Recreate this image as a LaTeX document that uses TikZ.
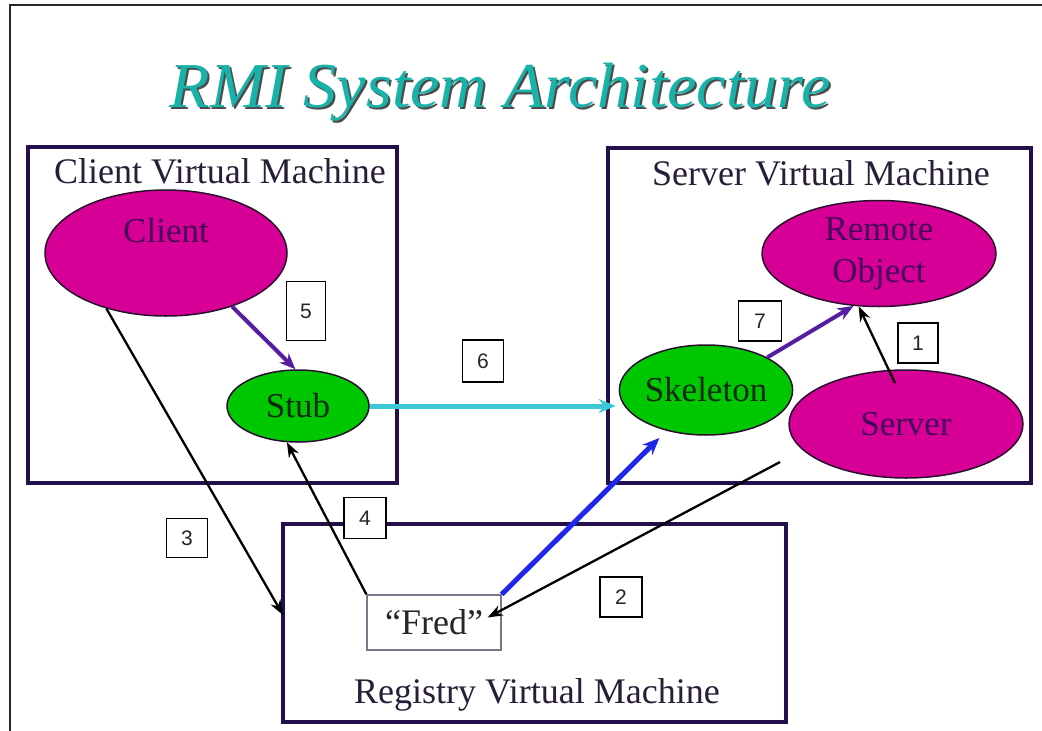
\documentclass[tikz,border=0pt]{standalone}
\usepackage{fontspec}
\setmainfont{Liberation Serif}
\newfontfamily\numfont{Liberation Sans}
\usetikzlibrary{arrows.meta,shapes.geometric,calc}
\definecolor{boxnavy}{RGB}{35,15,75}
\definecolor{magentafill}{RGB}{215,0,150}
\definecolor{greenfill}{RGB}{0,200,0}
\definecolor{ovaledge}{RGB}{40,15,45}
\definecolor{magtext}{RGB}{70,0,90}
\definecolor{grntext}{RGB}{20,40,20}
\definecolor{labeltext}{RGB}{40,30,55}
\definecolor{arrpurple}{RGB}{85,30,160}
\definecolor{arrcyan}{RGB}{60,200,215}
\definecolor{arrblue}{RGB}{30,40,235}
\definecolor{titleteal}{RGB}{25,178,168}
\definecolor{fredgray}{RGB}{120,120,140}
\tikzset{
  vmbox/.style={draw=boxnavy, line width=4pt, inner sep=0pt},
  vmlabel/.style={anchor=base, text=labeltext, font=\fontsize{36}{40}\selectfont, inner sep=0pt},
  magoval/.style={ellipse, draw=ovaledge, line width=1.5pt, fill=magentafill, inner sep=0pt, text=magtext, font=\fontsize{35}{38}\selectfont},
  grnoval/.style={ellipse, draw=ovaledge, line width=1.5pt, fill=greenfill, inner sep=0pt, text=grntext, font=\fontsize{35}{38}\selectfont},
  numbox/.style={draw=black, line width=1.3pt, fill=white, inner sep=0pt, font=\numfont\fontsize{21}{24}\selectfont, text=black!85},
  purparrow/.style={draw=arrpurple, line width=4pt, -{Stealth[length=16pt,width=13pt]}},
  blackarrow/.style={draw=black, line width=2.3pt, -{Stealth[length=15pt,width=11pt]}},
  cyanarrow/.style={draw=arrcyan, line width=5pt, -{Stealth[length=17pt,width=14pt]}},
  bluearrow/.style={draw=arrblue, line width=5pt, -{Stealth[length=17pt,width=14pt]}},
}
\begin{document}
\begin{tikzpicture}[x=1pt,y=-1pt]
\useasboundingbox (0,0) rectangle (1042,731);
\fill[white] (0,0) rectangle (1042,731);
% outer frame (top and left)
\draw[line width=2pt, black!85] (10,731) -- (10,5) -- (1042,5);

% title
\node[anchor=base, inner sep=0pt, text=black!70, font=\itshape\fontsize{64}{70}\selectfont] (titleshadow) at (502,109) {\scalebox{1.035}[1]{RMI System Architecture}};
\node[anchor=base, inner sep=0pt, text=titleteal, font=\itshape\fontsize{64}{70}\selectfont] (title) at (500,107) {\scalebox{1.035}[1]{RMI System Architecture}};

% virtual machine boxes
\node[vmbox, minimum width=369pt, minimum height=336pt] (clientvm) at (212.5,315) {};
\node[vmbox, minimum width=423pt, minimum height=335pt] (servervm) at (819.5,315.5) {};
\node[vmbox, minimum width=503pt, minimum height=198pt] (registryvm) at (534.5,623) {};
\node[vmlabel] (clientvmlbl) at (220,183) {Client Virtual Machine};
\node[vmlabel] (servervmlbl) at (821,185) {Server Virtual Machine};
\node[vmlabel] (registryvmlbl) at (537,703) {Registry Virtual Machine};

% ovals
\node[magoval, minimum width=242pt, minimum height=126pt,
      label={[text=magtext, font=\fontsize{35}{38}\selectfont, inner sep=0pt, yshift=22pt]center:Client}] (client) at (166,253) {};
\node[grnoval, minimum width=142pt, minimum height=72pt] (stub) at (298,406) {Stub};
\node[magoval, minimum width=234pt, minimum height=106pt, align=center] (remote) at (879,253.5) {Remote\\[4pt]Object};
\node[grnoval, minimum width=162pt, minimum height=90pt] (skeleton) at (706,390) {Skeleton};
\node[magoval, minimum width=234pt, minimum height=108pt] (server) at (906,424) {Server};

% registry entry
\node[draw=fredgray, line width=1.3pt, fill=white, minimum width=134pt, minimum height=55pt, inner sep=0pt, font=\fontsize{36}{40}\selectfont, text=black!85] (fred) at (434,622.5) {“Fred”};

% connectors
\coordinate (srvtail) at (780,462);
\draw[purparrow] (client.-39) -- (stub.94);
\draw[purparrow] (skeleton.28) -- (remote.-116);
\draw[blackarrow] ($(server.center)+(-11,-41)$) -- (remote.-111);
\draw[cyanarrow, shorten >=3pt] (stub.east) -- (stub.east -| skeleton.west);
\draw[bluearrow, shorten >=10pt] (fred.north east) -- (skeleton.-134);
\draw[blackarrow] (srvtail) -- ($(fred.east)+(-14,-5)$);
\draw[blackarrow] (client.-137) -- ($(registryvm.west)+(2,-8)$);
\draw[blackarrow] (fred.north west) -- (stub.-107);

% step numbers
\node[numbox, minimum width=40pt, minimum height=40pt] (n1) at (918,343) {1};
\node[numbox, minimum width=42pt, minimum height=40pt] (n2) at (621,597) {2};
\node[numbox, minimum width=41pt, minimum height=39pt] (n3) at (187,538) {3};
\node[numbox, minimum width=42pt, minimum height=41pt] (n4) at (365,518) {4};
\node[numbox, minimum width=39pt, minimum height=59pt] (n5) at (306,311) {5};
\node[numbox, minimum width=41pt, minimum height=42pt] (n6) at (483,361) {6};
\node[numbox, minimum width=43pt, minimum height=40pt] (n7) at (760,321) {7};
\end{tikzpicture}
\end{document}
